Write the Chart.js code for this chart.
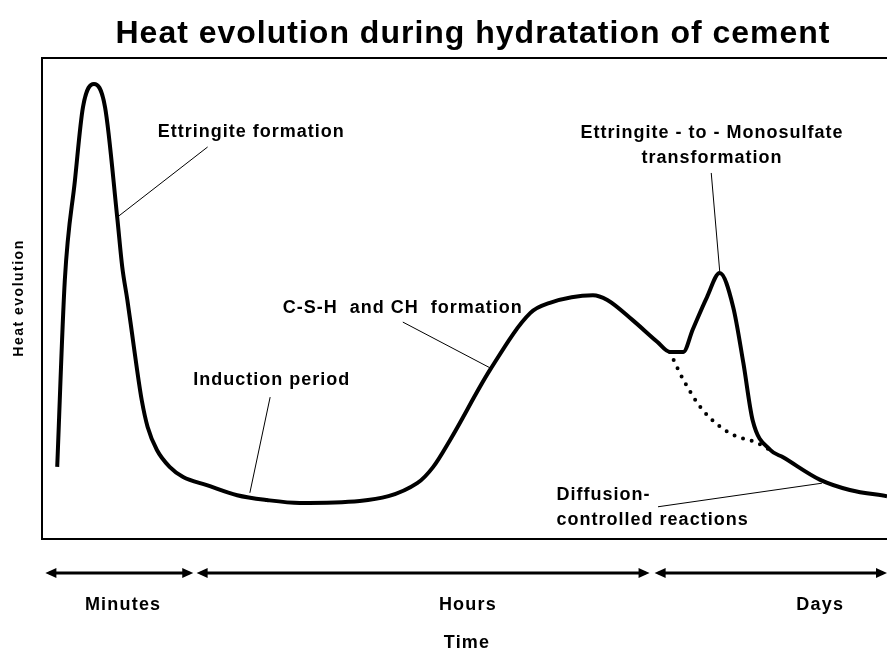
<!DOCTYPE html>
<html>
<head>
<meta charset="utf-8">
<script src="https://cdn.jsdelivr.net/npm/chart.js@4"></script>
<style>
  html, body { margin: 0; padding: 0; background: #fff; }
  #wrap { width: 887px; height: 653px; }
</style>
</head>
<body>
<div id="wrap"><canvas id="heatChart"></canvas></div>
<script>
// heat flow curve (time in arbitrary units 0-100, heat in arbitrary units 0-100)
const timeVals = [1.8, 2.7, 3.9, 4.85, 6.15, 7.46, 8.9, 9.5, 10.1, 10.65, 11.2, 11.8, 12.5, 13.6, 15.1, 16.7, 19.5, 23.1, 26.6, 30.5, 37.6, 44.4, 46.3, 48.3, 53.0, 57.8, 60.1, 65.2, 66.9, 69.9, 72.8, 74.3, 75.9, 77.0, 78.7, 80.2, 81.8, 83.0, 84.1, 86.2, 87.7, 92.1, 95.6, 100];
const heatVals = [15.0, 53.8, 74.6, 89.8, 94.6, 89.8, 66.9, 56.5, 49.7, 42.8, 35.8, 28.9, 23.3, 18.5, 15.0, 12.9, 11.2, 9.1, 8.1, 7.5, 7.9, 11.6, 15.0, 20.6, 35.1, 47.0, 49.1, 50.7, 49.7, 45.5, 41.0, 38.9, 38.9, 43.5, 50.3, 55.3, 48.2, 36.6, 24.7, 18.5, 17.0, 12.3, 10.2, 8.9];

// curve without the monosulfate peak (dotted)
const baseTime = [74.3, 75.9, 78.2, 81.4, 84.6, 86.2];
const baseHeat = [38.9, 33.1, 26.8, 22.0, 20.0, 18.5];

// time periods under the plot
const periods = ['Minutes', 'Hours', 'Days'];
const periodStart = [0.4, 18.3, 72.5];
const periodEnd = [17.9, 71.9, 100];
const periodLabelAt = [9.6, 50.4, 92.1];

// callouts: text lines, text anchor, leader line from -> to
const notes = [
    { lines: ['Ettringite formation'], align: 'left', x: 13.7, y: 84.6, from: [19.6, 81.5], to: [8.9, 66.9] },
    { lines: ['Induction period'], align: 'left', x: 17.9, y: 33.1, from: [27.0, 29.5], to: [24.6, 9.6] },
    { lines: ['C-S-H  and CH  formation'], align: 'left', x: 28.5, y: 48.0, from: [42.7, 45.1], to: [53.0, 35.6] },
    { lines: ['Ettringite - to - Monosulfate', 'transformation'], align: 'center', x: 79.3, y: 84.4, from: [79.2, 76.1], to: [80.2, 55.7] },
    { lines: ['Diffusion-', 'controlled reactions'], align: 'left', x: 60.9, y: 9.1, from: [72.9, 6.7], to: [92.3, 11.6] }
];

const FONT = '"Liberation Sans", Arial, sans-serif';

function arrowHead(ctx, x, y, dir) {
    ctx.beginPath();
    ctx.moveTo(x, y);
    ctx.lineTo(x - dir * 11, y - 5);
    ctx.lineTo(x - dir * 11, y + 5);
    ctx.closePath();
    ctx.fill();
}

const decorPlugin = {
    id: 'decor',
    afterDraw(chart) {
        const ctx = chart.ctx;
        const a = chart.chartArea;
        const xs = chart.scales.x, ys = chart.scales.y;
        ctx.save();
        ctx.fillStyle = '#000';
        ctx.strokeStyle = '#000';

        // frame
        ctx.lineWidth = 2;
        ctx.beginPath();
        ctx.moveTo(a.right, a.top);
        ctx.lineTo(a.left, a.top);
        ctx.lineTo(a.left, a.bottom);
        ctx.lineTo(a.right, a.bottom);
        ctx.stroke();

        // title
        ctx.font = 'bold 32px ' + FONT;
        ctx.letterSpacing = '1px';
        ctx.textAlign = 'center';
        ctx.textBaseline = 'middle';
        ctx.fillText('Heat evolution during hydratation of cement', 473, 34);

        // y label
        ctx.save();
        ctx.translate(19, 298);
        ctx.rotate(-Math.PI / 2);
        ctx.font = 'bold 14px ' + FONT;
        ctx.letterSpacing = '1.5px';
        ctx.fillText('Heat evolution', 0, 0);
        ctx.restore();

        // callouts
        ctx.font = 'bold 18px ' + FONT;
        ctx.letterSpacing = '1px';
        ctx.lineWidth = 1;
        notes.forEach(n => {
            ctx.textAlign = n.align;
            n.lines.forEach((t, i) => {
                ctx.fillText(t, xs.getPixelForValue(n.x), ys.getPixelForValue(n.y) + i * 25);
            });
            ctx.beginPath();
            ctx.moveTo(xs.getPixelForValue(n.from[0]), ys.getPixelForValue(n.from[1]));
            ctx.lineTo(xs.getPixelForValue(n.to[0]), ys.getPixelForValue(n.to[1]));
            ctx.stroke();
        });

        // period arrows
        const ay = 573;
        ctx.lineWidth = 3;
        ctx.textAlign = 'center';
        ctx.font = 'bold 18px ' + FONT;
        ctx.letterSpacing = '1.2px';
        periods.forEach((p, i) => {
            const x0 = xs.getPixelForValue(periodStart[i]);
            const x1 = xs.getPixelForValue(periodEnd[i]);
            ctx.beginPath();
            ctx.moveTo(x0 + 4, ay);
            ctx.lineTo(x1 - 4, ay);
            ctx.stroke();
            arrowHead(ctx, x0, ay, -1);
            arrowHead(ctx, x1, ay, 1);
            ctx.fillText(p, xs.getPixelForValue(periodLabelAt[i]), 605);
        });
        ctx.fillText('Time', xs.getPixelForValue(50.3), 643);
        ctx.restore();
    }
};

new Chart(document.getElementById('heatChart'), {
    type: 'line',
    data: {
        datasets: [{
            label: 'Heat evolution',
            data: timeVals.map((t, i) => ({ x: t, y: heatVals[i] })),
            borderColor: '#000',
            borderWidth: 4,
            pointRadius: 0,
            cubicInterpolationMode: 'monotone',
            fill: false
        }, {
            label: 'Without transformation',
            data: baseTime.map((t, i) => ({ x: t, y: baseHeat[i] })),
            borderColor: '#000',
            borderWidth: 4,
            borderDash: [0, 9],
            borderCapStyle: 'round',
            pointRadius: 0,
            cubicInterpolationMode: 'monotone',
            fill: false
        }]
    },
    options: {
        responsive: true,
        maintainAspectRatio: false,
        animation: false,
        layout: { padding: { left: 42, top: 58, right: 0, bottom: 114 } },
        scales: {
            x: { type: 'linear', min: 0, max: 100, display: false },
            y: { min: 0, max: 100, display: false }
        },
        plugins: {
            legend: { display: false },
            tooltip: { enabled: false }
        }
    },
    plugins: [decorPlugin]
});
</script>
</body>
</html>
